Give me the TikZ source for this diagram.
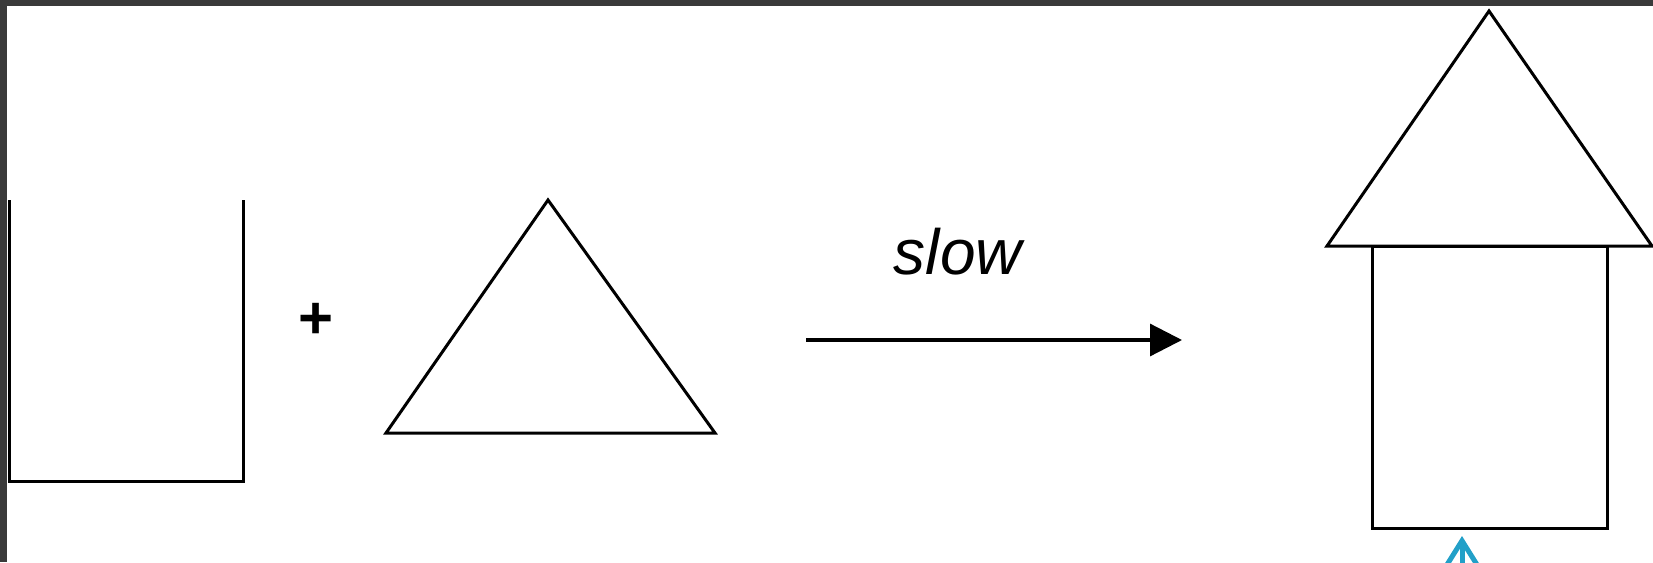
\documentclass[tikz,border=0pt]{standalone}
\usepackage{fontspec}
\setmainfont{Liberation Sans}
\usetikzlibrary{arrows.meta}
\definecolor{frame}{HTML}{3A3A3A}
\definecolor{hint}{HTML}{22A0C8}

\begin{document}
\begin{tikzpicture}[x=1pt, y=-1pt, line width=3pt]
    \useasboundingbox (0,0) rectangle (1653,562);
    % dark frame - top and left
    \fill[frame] (0,0) rectangle (1653,6);
    \fill[frame] (0,0) rectangle (7,562);
    % open box
    \draw (9,200) -- (9,481) -- (243,481) -- (243,200);
    \node[font=\bfseries\fontsize{60}{60}\selectfont, anchor=base] (plus) at (316,338) {+};
    % triangle
    \draw (548,200) -- (386,433) -- (715,433) -- cycle;
    % reaction arrow
    \coordinate (start) at (806,340);
    \coordinate (end) at (1182,340);
    \draw[line width=3.2pt, -{Triangle[length=32pt, width=32pt]}] (start) -- (end);
    \node[font=\itshape\fontsize{64}{64}\selectfont, anchor=base] (slow) at (958,274) {slow};
    % house - square and roof
    \draw (1372,246) rectangle (1607,528);
    \draw (1489,11) -- (1327,246) -- (1652,246) -- cycle;
    % pointer
    \coordinate (tail) at (1462,580);
    \coordinate (tip) at (1462,536);
    \draw[hint, line width=5pt, line cap=round, -{Straight Barb[length=24pt, width=30pt, line cap=round]}] (tail) -- (tip);
\end{tikzpicture}
\end{document}
